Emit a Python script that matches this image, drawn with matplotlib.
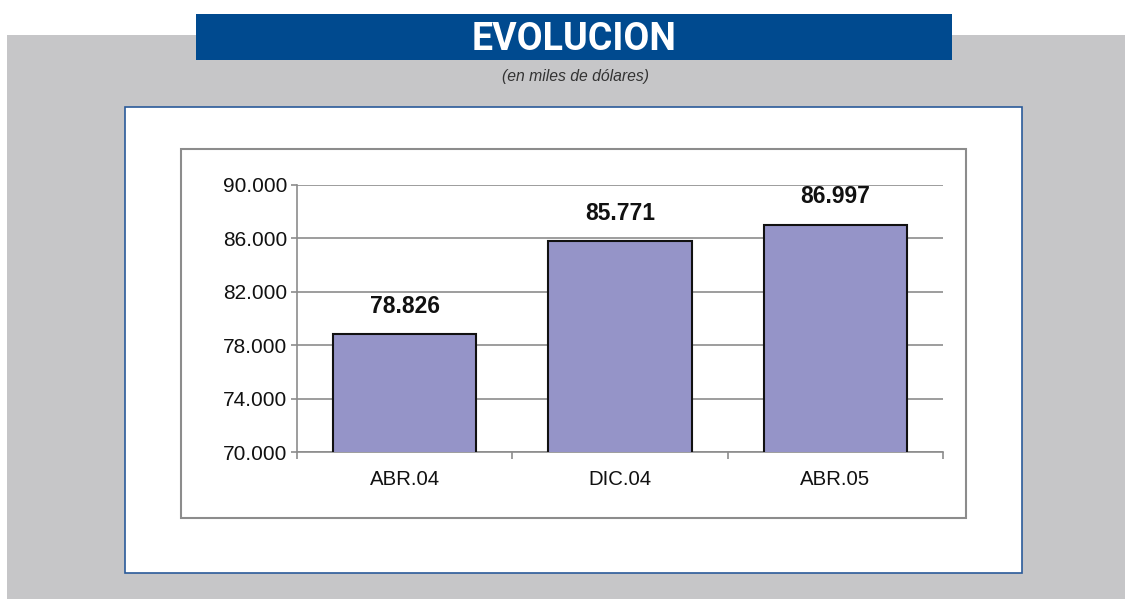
#!/usr/bin/env python
# -*- coding: utf-8 -*-

"""
Evolucion (en miles de dolares) - bar chart
"""

import matplotlib
matplotlib.use('Agg')
import matplotlib.pyplot as plt
from matplotlib.patches import Rectangle
import numpy as np

# 数据
categories = ['ABR.04', 'DIC.04', 'ABR.05']
values = [78826, 85771, 86997]
value_labels = ['78.826', '85.771', '86.997']
y_ticks = [70000, 74000, 78000, 82000, 86000, 90000]
y_tick_labels = ['70.000', '74.000', '78.000', '82.000', '86.000', '90.000']

W, H = 1125, 599
plt.rcParams['font.family'] = ['Liberation Sans', 'DejaVu Sans']


def px_rect(x0, y0, x1, y1):
    """像素坐标 -> figure 坐标 (left, bottom, width, height)"""
    return (x0 / W, 1 - y1 / H, (x1 - x0) / W, (y1 - y0) / H)


def add_box(fig, x0, y0, x1, y1, face, edge='none', lw=0, z=0):
    l, b, w, h = px_rect(x0, y0, x1, y1)
    fig.add_artist(Rectangle((l, b), w, h, transform=fig.transFigure,
                             facecolor=face, edgecolor=edge, linewidth=lw, zorder=z))


fig = plt.figure(figsize=(W / 100, H / 100), dpi=100)
fig.patch.set_facecolor('white')

# 背景框
add_box(fig, 7, 35, 1125, 599, '#c6c6c8', z=0)
add_box(fig, 196, 14, 952, 60, '#004a8f', z=1)
add_box(fig, 125, 107, 1022, 573, 'white', edge='#2a5a9a', lw=1.2, z=1)
add_box(fig, 181, 149, 966, 518, 'white', edge='#8c8c8c', lw=1.5, z=2)

# 标题
fig.text(574 / W, 1 - 39 / H, 'EVOLUCION', color='white', fontsize=27, fontweight='bold',
         family=['Roboto', 'Liberation Sans'], ha='center', va='center', zorder=3)
fig.text(576 / W, 1 - 77 / H, '(en miles de dólares)', color='#333333', fontsize=11.3,
         style='italic', ha='center', va='center', zorder=3)

# 坐标轴
ax = fig.add_axes(px_rect(297, 185, 943, 452), zorder=4)
ax.set_facecolor('none')
x = np.arange(len(categories))
ax.bar(x, values, width=0.665, color='#9594c8', edgecolor='#111111', linewidth=1.5, zorder=3)
for xi, v, lbl in zip(x, values, value_labels):
    ax.annotate(lbl, (xi, v), xytext=(0, 12), textcoords='offset points',
                ha='center', va='bottom', fontsize=16.5, fontweight='bold', color='#111111')

ax.set_xlim(-0.5, len(categories) - 0.5)
ax.set_ylim(70000, 90000)
ax.set_yticks(y_ticks)
ax.set_yticklabels(y_tick_labels, fontsize=15, color='#111111')
ax.yaxis.grid(True, color='#8c8c8c', linewidth=1.2, zorder=0)
ax.set_axisbelow(True)

# X轴: 标签在中心, 刻度在分界
ax.set_xticks(x)
ax.set_xticklabels(categories, fontsize=14.7, color='#111111')
ax.tick_params(axis='x', length=0, pad=13)
ax.set_xticks(np.arange(-0.5, len(categories)), minor=True)
ax.tick_params(axis='x', which='minor', length=5, width=1.2, color='#8c8c8c', direction='out')
ax.tick_params(axis='y', length=4, width=1.2, color='#8c8c8c', pad=3)

for s in ['top', 'right']:
    ax.spines[s].set_visible(False)
for s in ['left', 'bottom']:
    ax.spines[s].set_color('#8c8c8c')
    ax.spines[s].set_linewidth(1.2)

plt.savefig('out.png', dpi=100)
